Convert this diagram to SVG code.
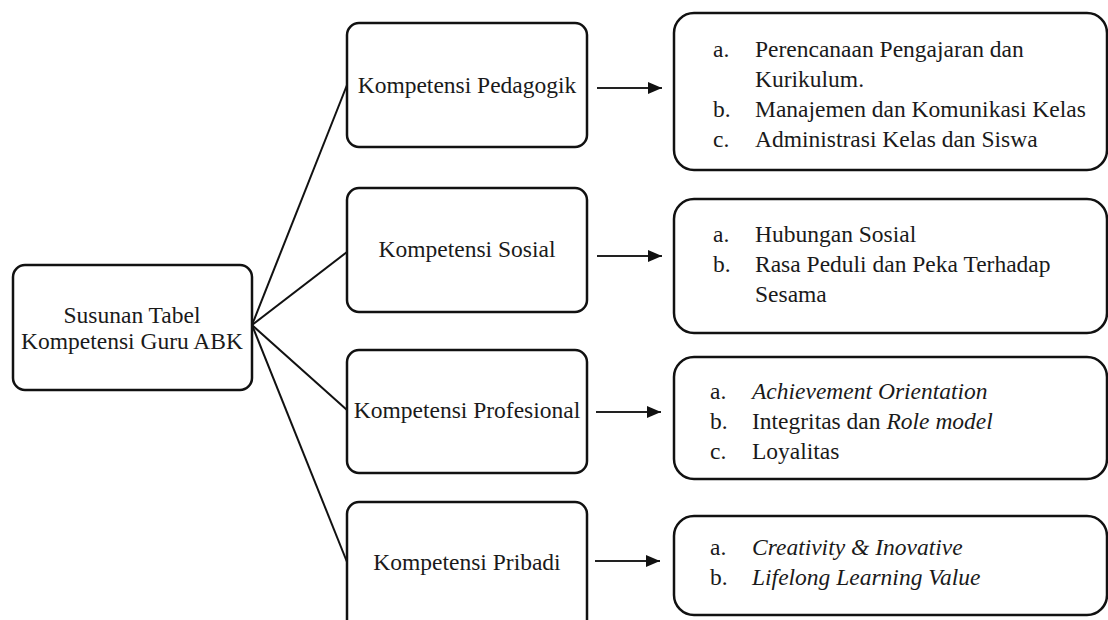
<svg xmlns="http://www.w3.org/2000/svg" width="1108" height="620" viewBox="0 0 1108 620">
<defs>
<marker id="ah" markerWidth="14" markerHeight="12" refX="14" refY="6" orient="auto" markerUnits="userSpaceOnUse">
<path d="M0,0 L14,6 L0,12 Z" fill="#111"/>
</marker>
<style>
.box{fill:#fff;stroke:#111;stroke-width:2.5}
.t{font-family:"Liberation Serif","Times New Roman",serif;font-size:23.5px;fill:#1a1a1a}
.c{text-anchor:middle}
.i{font-style:italic}
.conn{stroke:#111;stroke-width:2;fill:none}
.arr{stroke:#222;stroke-width:2;fill:none;marker-end:url(#ah)}
</style>
</defs>
<rect width="1108" height="620" fill="#fff"/>
<g id="connectors">
<line class="conn" x1="252" y1="325" x2="347" y2="85"/>
<line class="conn" x1="252" y1="325" x2="347" y2="252"/>
<line class="conn" x1="252" y1="325" x2="347" y2="410"/>
<line class="conn" x1="252" y1="325" x2="347" y2="562"/>
<line class="arr" x1="597" y1="88" x2="662" y2="88"/>
<line class="arr" x1="597" y1="256" x2="662" y2="256"/>
<line class="arr" x1="596" y1="412" x2="661" y2="412"/>
<line class="arr" x1="595" y1="561" x2="660" y2="561"/>
</g>
<g id="root">
<rect class="box" x="13" y="265" width="239" height="125" rx="12"/>
<text class="t c" x="132" y="323">Susunan Tabel</text>
<text class="t c" x="132" y="349">Kompetensi Guru ABK</text>
</g>
<g id="pedagogik">
<rect class="box" x="347" y="23" width="240" height="124" rx="12"/>
<text class="t c" x="467" y="93">Kompetensi Pedagogik</text>
</g>
<g id="sosial">
<rect class="box" x="347" y="188" width="240" height="124" rx="12"/>
<text class="t c" x="467" y="257">Kompetensi Sosial</text>
</g>
<g id="profesional">
<rect class="box" x="347" y="350" width="240" height="123" rx="12"/>
<text class="t c" x="467" y="418">Kompetensi Profesional</text>
</g>
<g id="pribadi">
<rect class="box" x="347" y="502" width="240" height="130" rx="12"/>
<text class="t c" x="467" y="570">Kompetensi Pribadi</text>
</g>
<g id="detail-pedagogik">
<rect class="box" x="674" y="13" width="433" height="157" rx="20"/>
<text class="t" x="713" y="57">a.</text><text class="t" x="755" y="57">Perencanaan Pengajaran dan</text>
<text class="t" x="755" y="87">Kurikulum.</text>
<text class="t" x="713" y="117">b.</text><text class="t" x="755" y="117">Manajemen dan Komunikasi Kelas</text>
<text class="t" x="713" y="147">c.</text><text class="t" x="755" y="147">Administrasi Kelas dan Siswa</text>
</g>
<g id="detail-sosial">
<rect class="box" x="674" y="199" width="433" height="134" rx="20"/>
<text class="t" x="713" y="242">a.</text><text class="t" x="755" y="242">Hubungan Sosial</text>
<text class="t" x="713" y="272">b.</text><text class="t" x="755" y="272">Rasa Peduli dan Peka Terhadap</text>
<text class="t" x="755" y="302">Sesama</text>
</g>
<g id="detail-profesional">
<rect class="box" x="674" y="357" width="433" height="122" rx="20"/>
<text class="t" x="710" y="399">a.</text><text class="t i" x="752" y="399">Achievement Orientation</text>
<text class="t" x="710" y="429">b.</text><text class="t" x="752" y="429">Integritas dan <tspan class="i">Role model</tspan></text>
<text class="t" x="710" y="459">c.</text><text class="t" x="752" y="459">Loyalitas</text>
</g>
<g id="detail-pribadi">
<rect class="box" x="674" y="516" width="433" height="99" rx="20"/>
<text class="t" x="710" y="555">a.</text><text class="t i" x="752" y="555">Creativity &amp; Inovative</text>
<text class="t" x="710" y="585">b.</text><text class="t i" x="752" y="585">Lifelong Learning Value</text>
</g>
</svg>
